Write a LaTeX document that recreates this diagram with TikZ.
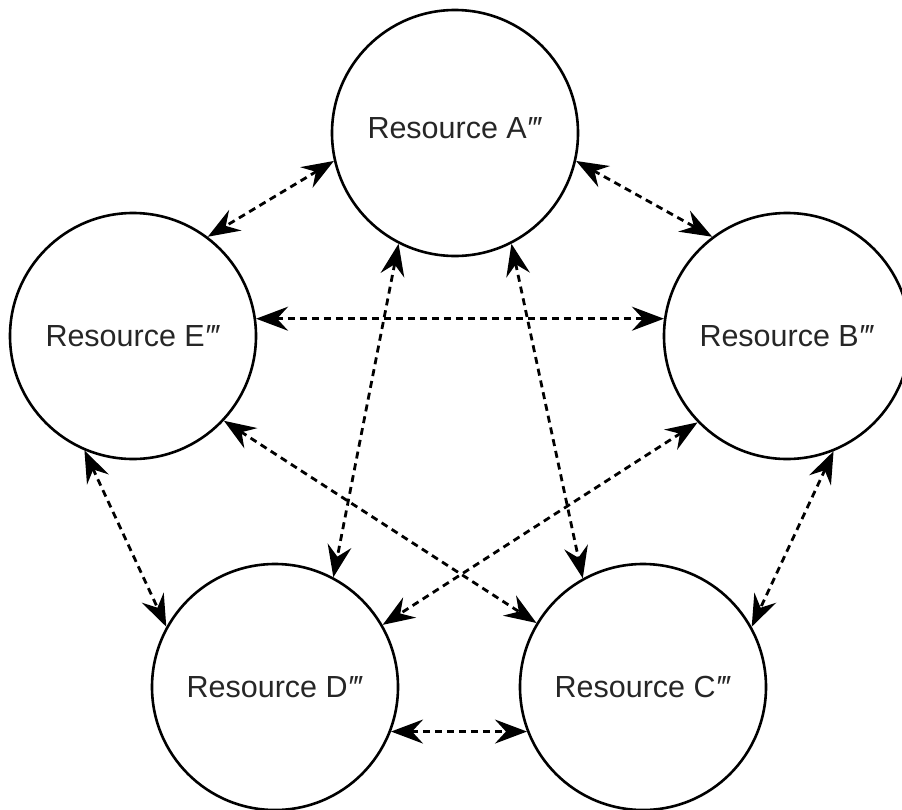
\documentclass[tikz,border=0pt]{standalone}
\usepackage{fontspec}
\setmainfont{Liberation Sans}
\usetikzlibrary{arrows.meta}
% triple prime built from single primes
\newcommand{\tprime}{\kern0.03em′\kern-0.04em′\kern-0.04em′}
\begin{document}
\begin{tikzpicture}[x=1pt,y=-1pt,
  res/.style={circle,draw,line width=2.6pt,minimum size=246pt,inner sep=0pt,
    font=\fontsize{30.5}{36}\selectfont,text=black!85},
  link/.style={dash pattern=on 7pt off 5pt,line width=2.8pt,
    arrows={Stealth[length=32pt,width=24pt,inset=11pt]-Stealth[length=32pt,width=24pt,inset=11pt]}}]
\useasboundingbox (0,0) rectangle (902,809);
\node[res] (A) at (455,133) {\raisebox{10pt}{Resource A\tprime}};
\node[res] (E) at (133,336) {Resource E\tprime};
\node[res] (B) at (787,336) {Resource B\tprime};
\node[res] (D) at (275,687) {Resource D\tprime};
\node[res] (C) at (643,687) {Resource C\tprime};
\draw[link] (A.193) -- (E.53);
\draw[link] (A.347) -- (B.127);
\draw[link] (E.8) -- (B.172);
\draw[link] (A.243) -- (D.62);
\draw[link] (A.297) -- (C.119);
\draw[link] (E.317) -- (C.149);
\draw[link] (B.224) -- (D.30);
\draw[link] (E.247) -- (D.151);
\draw[link] (B.292) -- (C.29);
\draw[link] (D.339) -- (C.201);
\end{tikzpicture}
\end{document}
